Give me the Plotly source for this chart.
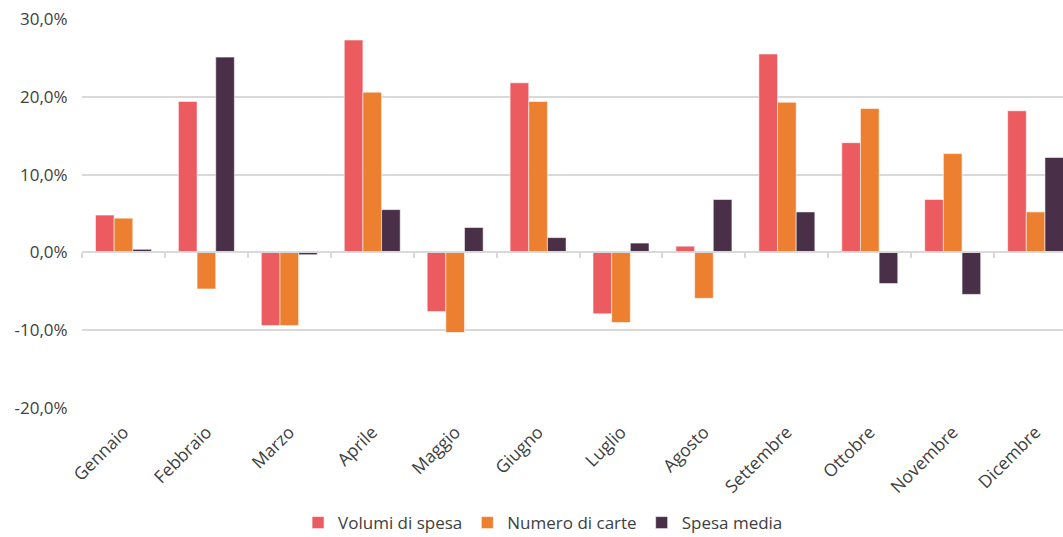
import plotly.graph_objects as go

# Variazione % rispetto all'anno precedente, per mese
mesi = ["Gennaio", "Febbraio", "Marzo", "Aprile", "Maggio", "Giugno",
        "Luglio", "Agosto", "Settembre", "Ottobre", "Novembre", "Dicembre"]

volumi_di_spesa = [4.8, 19.4, -9.4, 27.3, -7.6, 21.8, -7.9, 0.8, 25.5, 14.1, 6.8, 18.2]
numero_di_carte = [4.4, -4.7, -9.4, 20.6, -10.3, 19.4, -9.0, -5.9, 19.3, 18.5, 12.7, 5.2]
spesa_media = [0.4, 25.1, -0.3, 5.5, 3.2, 1.9, 1.2, 6.8, 5.2, -4.0, -5.4, 12.2]

y_ticks = [-20, -10, 0, 10, 20, 30]
y_labels = [f"{v:.1f}%".replace(".", ",") for v in y_ticks]

serie = [
    ("Volumi di spesa", volumi_di_spesa, "#EB5B60"),
    ("Numero di carte", numero_di_carte, "#ED7F31"),
    ("Spesa media", spesa_media, "#4A2F48"),
]

FONT = "Open Sans"
TEXT = "#404040"
GRID = "#D9D9D9"

fig = go.Figure()
for nome, valori, colore in serie:
    fig.add_trace(go.Bar(
        x=mesi, y=valori, name=nome,
        marker=dict(color=colore, line=dict(color="rgba(255,255,255,0.55)", width=1)),
        hoverinfo="x+y+name",
    ))

# Asse orizzontale sullo zero, con le tacche tra i mesi
fig.add_trace(go.Scatter(
    x=mesi, y=[None] * len(mesi), xaxis="x2", yaxis="y",
    mode="markers", showlegend=False, hoverinfo="skip",
))

y_min, y_max = y_ticks[0], y_ticks[-1]
zero_pos = (0 - y_min) / (y_max - y_min)

fig.update_layout(
    width=1063, height=537,
    margin=dict(l=82, r=0, t=19, b=129),
    paper_bgcolor="white", plot_bgcolor="white",
    barmode="group", bargap=0.325, bargroupgap=0,
    font=dict(family=FONT, size=15, color=TEXT),
    xaxis=dict(
        type="category", categoryorder="array", categoryarray=mesi,
        range=[-0.5, 11.33], tickangle=-45, showgrid=False, showline=False,
        ticks="outside", ticklen=6, tickcolor="rgba(0,0,0,0)",
        tickfont=dict(family=FONT, size=17.5, color=TEXT),
    ),
    xaxis2=dict(
        type="category", categoryorder="array", categoryarray=mesi,
        overlaying="x", matches="x", anchor="free", position=zero_pos,
        showline=True, linecolor=GRID, linewidth=1.5,
        ticks="outside", tickson="boundaries", ticklen=5, tickcolor=GRID, tickwidth=1.5,
        showticklabels=False, showgrid=False,
    ),
    yaxis=dict(
        range=[y_min, y_max], tickvals=y_ticks, ticktext=y_labels,
        showgrid=True, gridcolor=GRID, gridwidth=1.5, zeroline=False,
        ticks="outside", ticklen=10, tickcolor="rgba(0,0,0,0)",
        tickfont=dict(family=FONT, size=17, color=TEXT),
    ),
    legend=dict(
        orientation="h", x=0.47, xanchor="center",
        yref="container", y=0.026, yanchor="middle",
        font=dict(family=FONT, size=17, color=TEXT), itemwidth=30,
        traceorder="normal",
    ),
    showlegend=True,
)

fig.write_html("out.html")
